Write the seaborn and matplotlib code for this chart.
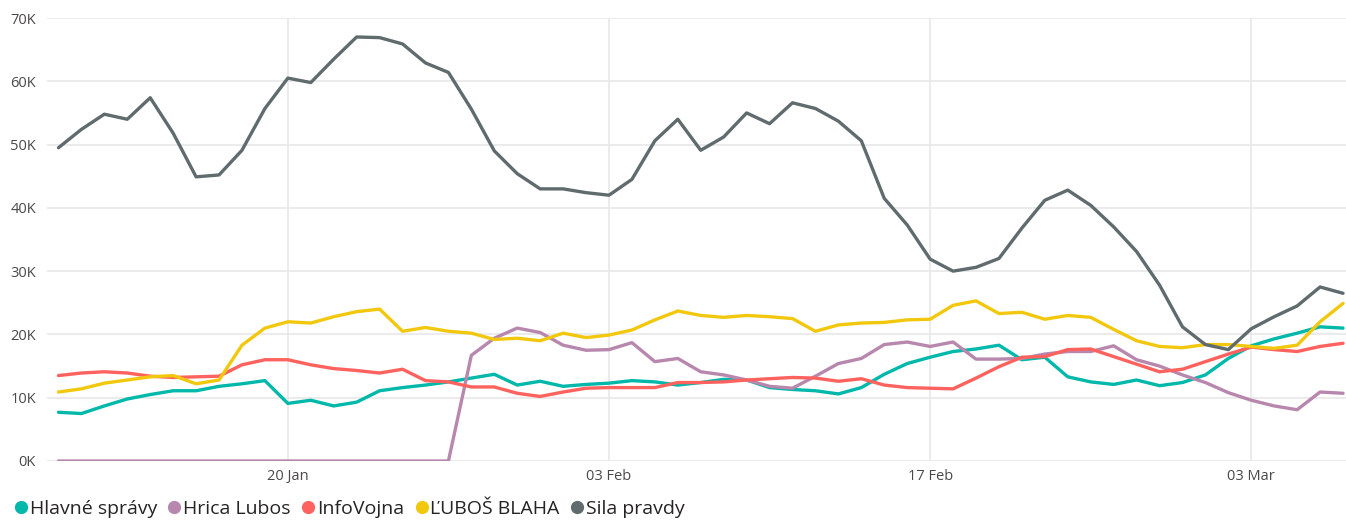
import pandas as pd
import numpy as np
import seaborn as sns
import matplotlib.pyplot as plt
import matplotlib.dates as mdates
from matplotlib.lines import Line2D

# daily values, 10 Jan .. 07 Mar (non-leap year)
dates = pd.date_range("2023-01-10", "2023-03-07", freq="D")

hlavne_spravy = [
    7.7, 7.5, 8.7, 9.8, 10.5, 11.1, 11.1, 11.8, 12.2, 12.7,
    9.1, 9.6, 8.7, 9.3, 11.1, 11.6, 12.0, 12.5, 13.1, 13.7,
    12.0, 12.6, 11.8, 12.1, 12.3, 12.7, 12.5, 12.0, 12.4, 12.9,
    12.8, 11.6, 11.3, 11.1, 10.6, 11.6, 13.7, 15.4, 16.4, 17.3,
    17.7, 18.3, 16.0, 16.4, 13.3, 12.5, 12.1, 12.8, 11.9, 12.4,
    13.6, 16.2, 18.2, 19.3, 20.2, 21.2, 21.0,
]
hrica_lubos = [
    0, 0, 0, 0, 0, 0, 0, 0, 0, 0,
    0, 0, 0, 0, 0, 0, 0, 0, 16.7, 19.4,
    21.0, 20.3, 18.3, 17.5, 17.6, 18.7, 15.7, 16.2, 14.1, 13.6,
    12.8, 11.8, 11.5, 13.4, 15.4, 16.2, 18.4, 18.8, 18.1, 18.8,
    16.1, 16.1, 16.2, 16.9, 17.3, 17.3, 18.2, 16.0, 15.0, 13.6,
    12.4, 10.8, 9.6, 8.7, 8.1, 10.9, 10.7,
]
infovojna = [
    13.5, 13.9, 14.1, 13.9, 13.4, 13.2, 13.3, 13.4, 15.2, 16.0,
    16.0, 15.2, 14.6, 14.3, 13.9, 14.5, 12.7, 12.5, 11.7, 11.7,
    10.7, 10.2, 10.9, 11.5, 11.6, 11.6, 11.6, 12.4, 12.4, 12.5,
    12.8, 13.0, 13.2, 13.1, 12.6, 13.0, 12.0, 11.6, 11.5, 11.4,
    13.1, 14.9, 16.4, 16.5, 17.6, 17.7, 16.5, 15.3, 14.1, 14.5,
    15.7, 16.9, 18.0, 17.6, 17.3, 18.1, 18.6,
]
lubos_blaha = [
    10.9, 11.4, 12.3, 12.8, 13.3, 13.5, 12.2, 12.8, 18.3, 21.0,
    22.0, 21.8, 22.8, 23.6, 24.0, 20.5, 21.1, 20.5, 20.2, 19.2,
    19.4, 19.0, 20.2, 19.5, 19.9, 20.7, 22.3, 23.7, 23.0, 22.7,
    23.0, 22.8, 22.5, 20.5, 21.5, 21.8, 21.9, 22.3, 22.4, 24.6,
    25.3, 23.3, 23.5, 22.4, 23.0, 22.7, 20.8, 19.0, 18.1, 17.9,
    18.4, 18.4, 18.1, 17.8, 18.3, 22.0, 24.9,
]
sila_pravdy = [
    49.5, 52.4, 54.8, 54.0, 57.4, 51.8, 44.9, 45.2, 49.1, 55.7,
    60.5, 59.8, 63.5, 67.0, 66.9, 65.9, 62.9, 61.4, 55.6, 49.0,
    45.4, 43.0, 43.0, 42.4, 42.0, 44.5, 50.6, 54.0, 49.1, 51.2,
    55.0, 53.3, 56.6, 55.7, 53.7, 50.6, 41.5, 37.3, 31.9, 30.0,
    30.6, 32.0, 36.8, 41.2, 42.8, 40.4, 37.0, 33.1, 27.8, 21.2,
    18.4, 17.6, 20.9, 22.8, 24.5, 27.5, 26.5,
]

series_names = ["Hlavné správy", "Hrica Lubos", "InfoVojna", "ĽUBOŠ BLAHA", "Sila pravdy"]
colors = ["#01B8AA", "#B887AD", "#FD625E", "#F2C80F", "#5F6B6D"]
tick_dates = pd.to_datetime(["2023-01-20", "2023-02-03", "2023-02-17", "2023-03-03"])

df = pd.DataFrame({
    "date": dates,
    "Hlavné správy": hlavne_spravy,
    "Hrica Lubos": hrica_lubos,
    "InfoVojna": infovojna,
    "ĽUBOŠ BLAHA": lubos_blaha,
    "Sila pravdy": sila_pravdy,
})
long = df.melt(id_vars="date", var_name="source", value_name="value")
long["value"] = long["value"] * 1000

sns.set_style("white")
plt.rcParams["font.family"] = ["Open Sans", "DejaVu Sans"]

fig = plt.figure(figsize=(13.46, 5.2), dpi=100)
ax = fig.add_axes([47 / 1346, 59 / 520, 1299 / 1346, 443 / 520])

sns.lineplot(data=long, x="date", y="value", hue="source", hue_order=series_names,
             palette=colors, linewidth=2.4, ax=ax, legend=False)

ax.set_ylim(0, 70000)
ax.set_xlim(dates[0] - pd.Timedelta(days=0.5), dates[-1] + pd.Timedelta(days=0.13))
ax.set_yticks(np.arange(0, 70001, 10000))
ax.set_yticklabels([f"{int(v / 1000)}K" for v in ax.get_yticks()])
ax.set_xticks(tick_dates)
ax.xaxis.set_major_formatter(mdates.DateFormatter("%d %b"))
ax.grid(True, color="#E9E9E9", linewidth=1.3)
ax.set_axisbelow(True)
for s in ax.spines.values():
    s.set_visible(False)
ax.tick_params(length=0, labelsize=10.5, colors="#4A4948", pad=6)
ax.tick_params(axis="y", pad=8)
ax.set_xlabel("")
ax.set_ylabel("")

handles = [Line2D([], [], marker="o", linestyle="", color=c, markersize=8.5) for c in colors]
fig.legend(handles, series_names, loc="center left", bbox_to_anchor=(-0.004, 11 / 520),
           ncol=5, frameon=False, fontsize=14, handletextpad=0.0,
           columnspacing=0.45, handlelength=0.9, labelcolor="#252423")

fig.savefig("out.png", dpi=100)
